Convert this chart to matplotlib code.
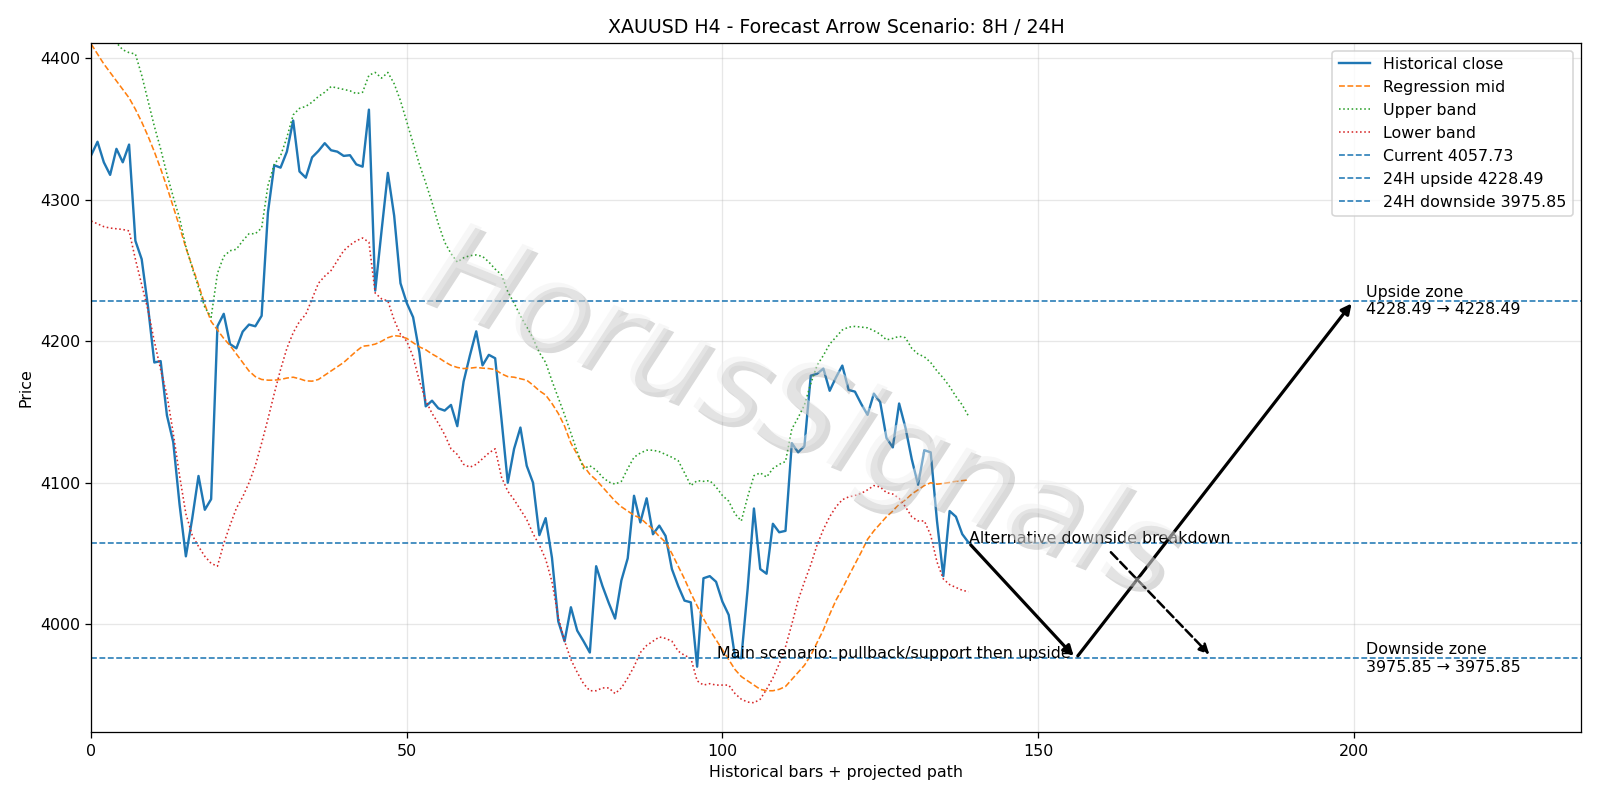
#!/usr/bin/env python
# coding:utf-8

import numpy as np
import matplotlib
matplotlib.use('Agg')
import matplotlib.pyplot as plt
import matplotlib.patheffects as pe

# historical H4 closes (bars 0..139)
close = [
    4331.5, 4341, 4326.5, 4317.6, 4336, 4326.5, 4339, 4271, 4258, 4224.4,
    4185, 4186, 4147.6, 4128.7, 4084.6, 4048, 4074.6, 4104.8, 4080.9, 4088.4,
    4210.6, 4219.4, 4198, 4195, 4206.8, 4211.8, 4210.6, 4218, 4291, 4324.4,
    4322.7, 4334, 4356, 4320, 4315.6, 4330, 4334.5, 4340, 4335, 4334,
    4331, 4331.5, 4325, 4323.4, 4363.7, 4235.8, 4278, 4319, 4288.7, 4241,
    4227, 4217, 4192, 4154, 4158, 4152.6, 4151, 4155, 4140, 4171.5,
    4190, 4207, 4183, 4190.4, 4188, 4145, 4100, 4124, 4139, 4112,
    4100, 4063, 4075, 4047, 4002, 3988, 4012, 3995.5, 3988, 3980,
    4041, 4027, 4015, 4004, 4031, 4046.6, 4090.8, 4072, 4089, 4063.6,
    4069.7, 4062.4, 4039, 4027, 4016.7, 4015.5, 3970, 4032.5, 4034, 4030,
    4016, 4006.6, 3977, 3976, 4025, 4081.8, 4039, 4035.7, 4071, 4065,
    4066, 4128, 4121.5, 4126, 4175.7, 4177, 4180.7, 4165, 4174.5, 4182.8,
    4165.6, 4164.4, 4155.7, 4148, 4163, 4157, 4131.6, 4125, 4156, 4139,
    4116.7, 4098.6, 4123, 4121.5, 4073, 4034, 4080, 4076, 4063.7, 4057.73,
]

reg_mid = [
    4410, 4403, 4396, 4390, 4384, 4378, 4372, 4364, 4355, 4345,
    4334, 4322, 4309, 4295, 4281, 4266, 4253, 4240, 4226, 4214,
    4208, 4202, 4197, 4191, 4185, 4179, 4175, 4173, 4172.5, 4172.5,
    4173, 4174, 4174.6, 4173.5, 4172, 4171.8, 4173, 4176, 4179, 4182,
    4185, 4189, 4193, 4196.5, 4197, 4198, 4200, 4202.5, 4204, 4203.5,
    4202, 4199, 4196, 4194, 4191, 4188.5, 4185.5, 4183, 4181.5, 4180.7,
    4181, 4181.5, 4181, 4180.7, 4180, 4177, 4175, 4174.6, 4173.5, 4172.5,
    4169, 4165, 4162, 4156, 4149, 4140, 4128, 4120, 4112, 4106,
    4102, 4097, 4092, 4087, 4083, 4080, 4077, 4075, 4071, 4067,
    4062, 4058, 4050, 4041, 4032, 4022, 4013, 4004, 3996, 3989,
    3982, 3975, 3968, 3963, 3960, 3957, 3954, 3953, 3953, 3954,
    3956, 3961, 3966, 3971, 3978, 3987, 3996, 4007, 4017, 4025,
    4034, 4042.5, 4051, 4060, 4066, 4071, 4076, 4080, 4085, 4088,
    4092, 4095, 4098, 4100, 4099, 4099.5, 4100.2, 4101, 4101.5, 4102,
]

upper_band = [
    4440, 4432, 4425, 4418, 4411, 4406, 4404, 4403, 4388, 4370,
    4352, 4336, 4318, 4302, 4287, 4267, 4252, 4238, 4224, 4217,
    4248, 4260, 4264, 4265, 4271, 4276, 4276, 4280, 4310, 4325,
    4331, 4344, 4360, 4364.6, 4366, 4369, 4373, 4376, 4380, 4379,
    4378, 4377, 4375, 4376, 4388, 4390, 4386, 4390, 4382, 4370,
    4355, 4340, 4325, 4312, 4298, 4283, 4270, 4262, 4256, 4259,
    4260.5, 4261, 4260, 4256, 4251, 4247, 4235, 4227, 4218, 4210,
    4202, 4192, 4185, 4172, 4160, 4148, 4135, 4122, 4110, 4112,
    4109, 4104, 4100.5, 4099, 4101, 4110, 4118, 4121, 4123, 4123,
    4122, 4120, 4118, 4115.6, 4107, 4098, 4101.5, 4101, 4101.5, 4097,
    4091, 4087, 4078, 4073, 4090, 4105, 4107, 4104, 4110, 4113,
    4115, 4138, 4146, 4155, 4170, 4183, 4190, 4198, 4203, 4208,
    4210, 4210.5, 4210, 4209.5, 4207.5, 4205, 4201, 4202, 4203.5, 4202.5,
    4195, 4191, 4189, 4185, 4179, 4174, 4168, 4161, 4155, 4147,
]

lower_band = [
    4285, 4283, 4281, 4280, 4279.5, 4279, 4278, 4258, 4240, 4222,
    4200, 4180, 4162, 4135, 4105, 4078, 4063, 4055, 4048, 4043,
    4041, 4057, 4070, 4082, 4090, 4100, 4112, 4128, 4145, 4163,
    4180, 4195, 4206, 4214, 4219, 4230, 4241, 4246, 4250, 4257,
    4264, 4268, 4271, 4273, 4270, 4234, 4230, 4228.5, 4215, 4205,
    4200, 4189, 4172, 4158, 4149, 4142, 4134, 4124, 4120, 4113,
    4111, 4113, 4117, 4121, 4124, 4104, 4094, 4088, 4081, 4074,
    4064, 4056, 4046, 4030, 4005, 3988, 3975, 3966, 3958, 3953,
    3953, 3955, 3955, 3951, 3955, 3962, 3970, 3980, 3985, 3988,
    3991, 3990, 3988, 3981, 3978, 3976, 3960, 3957, 3958, 3957,
    3957, 3957, 3951, 3947, 3945, 3944.5, 3947, 3954, 3962, 3972,
    3984, 4000, 4017, 4030, 4042, 4056, 4067, 4076, 4083, 4088,
    4090, 4091, 4092.5, 4095, 4098, 4097, 4093, 4092, 4089, 4083,
    4076, 4073, 4073, 4063, 4044, 4032, 4028, 4026, 4024, 4023,
]

current_price = 4057.73
upside_24h = 4228.49
downside_24h = 3975.85

# projected path (bar index, price)
main_path_x = [139, 156, 200]
main_path_y = [current_price, downside_24h, upside_24h]
alt_path_x = [161.2, 177.5]
alt_path_y = [4052.5, 3977.0]

title = 'XAUUSD H4 - Forecast Arrow Scenario: 8H / 24H'
watermark = 'HorusSignals'


if __name__ == "__main__":

    bars = np.arange(len(close))

    fig = plt.figure(figsize=(14, 7), dpi=1600 / 14)
    ax = fig.add_subplot(111)
    fig.subplots_adjust(left=0.057, right=0.988, top=0.9466, bottom=0.0844)

    ax.plot(bars, close, color='#1f77b4', lw=1.5, label='Historical close')
    ax.plot(bars, reg_mid, color='#ff7f0e', lw=1.0, ls='--', label='Regression mid')
    ax.plot(bars, upper_band, color='#2ca02c', lw=1.0, ls=':', label='Upper band')
    ax.plot(bars, lower_band, color='#d62728', lw=1.0, ls=':', label='Lower band')

    ax.axhline(current_price, color='#1f77b4', lw=1.0, ls='--', label=f'Current {current_price:.2f}')
    ax.axhline(upside_24h, color='#1f77b4', lw=1.0, ls='--', label=f'24H upside {upside_24h:.2f}')
    ax.axhline(downside_24h, color='#1f77b4', lw=1.0, ls='--', label=f'24H downside {downside_24h:.2f}')

    # main scenario: pullback to support, then upside
    for k in range(len(main_path_x) - 1):
        ax.annotate('', xy=(main_path_x[k + 1], main_path_y[k + 1]),
                    xytext=(main_path_x[k], main_path_y[k]),
                    arrowprops=dict(arrowstyle='-|>', color='black', lw=2.0, mutation_scale=13))
    # alternative: breakdown
    ax.annotate('', xy=(alt_path_x[1], alt_path_y[1]), xytext=(alt_path_x[0], alt_path_y[0]),
                arrowprops=dict(arrowstyle='-|>', color='black', lw=1.6, ls='--', mutation_scale=13))

    ax.text(main_path_x[1] - 0.8, downside_24h, 'Main scenario: pullback/support then upside',
            ha='right', va='baseline', fontsize=10)
    ax.text(main_path_x[0], current_price, 'Alternative downside breakdown',
            ha='left', va='baseline', fontsize=10)
    ax.text(202, upside_24h, f'Upside zone\n{upside_24h:.2f} \u2192 {upside_24h:.2f}',
            ha='left', va='center', fontsize=10)
    ax.text(202, downside_24h, f'Downside zone\n{downside_24h:.2f} \u2192 {downside_24h:.2f}',
            ha='left', va='center', fontsize=10)

    # watermark: pale italic letters with a soft shadow
    fig.text(0.5, 0.48, watermark, fontsize=77, style='italic', color='#eeeeee',
             ha='center', va='center', rotation=-22, alpha=0.45, zorder=10,
             path_effects=[pe.withSimplePatchShadow(offset=(3, -3), shadow_rgbFace='#7a7a7a', alpha=0.28)])

    ax.set_xlim(0, 236)
    ax.set_ylim(3923.5, 4411)
    ax.grid(True, alpha=0.3)
    ax.set_title(title, fontsize=12)
    ax.set_xlabel('Historical bars + projected path')
    ax.set_ylabel('Price')
    ax.legend(loc='upper right')

    plt.savefig('out.png', dpi=1600 / 14)
